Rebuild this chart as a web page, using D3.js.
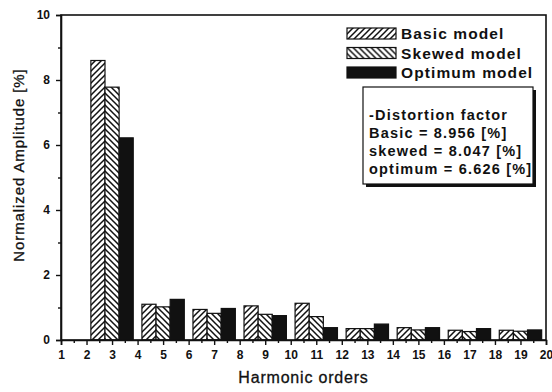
<!DOCTYPE html>
<html>
<head>
<meta charset="utf-8">
<script src="https://cdn.jsdelivr.net/npm/d3@7"></script>
<style>
  body { margin: 0; background: #fff; }
  text { font-family: "Liberation Sans", Arial, sans-serif; fill: #111; }
</style>
</head>
<body>
<div id="chart"></div>
<script>
const width = 552;
const height = 392;

const harmonics = [3, 5, 7, 9, 11, 13, 15, 17, 19];
const series = ["Basic model", "Skewed model", "Optimum model"];
const basic   = [8.60, 1.10, 0.94, 1.05, 1.13, 0.35, 0.38, 0.30, 0.30];
const skewed  = [7.78, 1.02, 0.82, 0.79, 0.72, 0.35, 0.31, 0.26, 0.27];
const optimum = [6.22, 1.25, 0.97, 0.75, 0.38, 0.49, 0.38, 0.35, 0.31];
const xTicks = d3.range(1, 21);
const yTicks = [0, 2, 4, 6, 8, 10];
const distortion = ["-Distortion factor", "Basic = 8.956 [%]", "skewed = 8.047 [%]", "optimum = 6.626 [%]"];

const values = [basic, skewed, optimum];
const fills = ["url(#hatch-basic)", "url(#hatch-skewed)", "#111"];

const margin = { top: 15, right: 6, bottom: 52, left: 61 };

let x = d3.scaleLinear()
  .domain([1, 20])
  .range([margin.left, width - margin.right]);
let y = d3.scaleLinear()
  .domain([0, 10])
  .range([height - margin.bottom, margin.top]);
let inner = d3.scaleBand()
  .domain(series)
  .range([-0.83, 0.83]);

let svg = d3.select("#chart")
  .append("svg")
  .attr("width", width)
  .attr("height", height)
  .attr("viewBox", [0, 0, width, height]);

let defs = svg.append("defs");
function hatch(id, d) {
  defs.append("pattern")
      .attr("id", id)
      .attr("patternUnits", "userSpaceOnUse")
      .attr("width", 6)
      .attr("height", 6)
    .call(p => p.append("rect").attr("width", 6).attr("height", 6).attr("fill", "#fff"))
    .append("path")
      .attr("d", d)
      .attr("stroke", "#111")
      .attr("stroke-width", 1.5);
}
hatch("hatch-basic", "M-1,7 L7,-1 M-4,4 L4,-4 M2,10 L10,2");
hatch("hatch-skewed", "M-1,-1 L7,7 M-4,2 L4,10 M2,-4 L10,4");

// bars
let groups = svg.append("g")
  .selectAll("g")
  .data(series)
  .join("g");

groups.selectAll("rect")
  .data((s, i) => harmonics.map((h, j) => ({ h, v: values[i][j], s, i })))
  .join("rect")
    .attr("x", d => x(d.h + inner(d.s)))
    .attr("width", x(1 + inner.bandwidth()) - x(1))
    .attr("y", d => y(d.v))
    .attr("height", d => y(0) - y(d.v))
    .attr("fill", d => fills[d.i])
    .attr("stroke", "#111")
    .attr("stroke-width", 1.2);

// frame
svg.append("rect")
  .attr("x", x(1))
  .attr("y", y(10))
  .attr("width", x(20) - x(1))
  .attr("height", y(0) - y(10))
  .attr("fill", "none")
  .attr("stroke", "#111")
  .attr("stroke-width", 1.6);

// axes
svg.append("g")
  .attr("transform", `translate(0,${y(0)})`)
  .call(d3.axisBottom(x).tickValues(xTicks).tickFormat(d3.format("d")).tickSize(5).tickPadding(5));
svg.append("g")
  .attr("transform", `translate(0,${y(0)})`)
  .call(d3.axisBottom(x).tickValues(d3.range(1.5, 20, 1)).tickFormat("").tickSize(3))
  .call(g => g.select(".domain").remove());

svg.append("g")
  .attr("transform", `translate(${x(1)},0)`)
  .call(d3.axisLeft(y).tickValues(yTicks).tickFormat(d3.format("d")).tickSize(5).tickPadding(6));
svg.append("g")
  .attr("transform", `translate(${x(1)},0)`)
  .call(d3.axisLeft(y).tickValues([1, 3, 5, 7, 9]).tickFormat("").tickSize(3))
  .call(g => g.select(".domain").remove());

svg.selectAll(".tick line").attr("stroke", "#111").attr("stroke-width", 1.4);
svg.selectAll(".domain").attr("stroke", "#111").attr("stroke-width", 1.6);
svg.selectAll(".tick text")
  .style("font-family", "'Liberation Sans', Arial, sans-serif")
  .style("font-size", "12px")
  .style("font-weight", "bold")
  .attr("fill", "#111");

// axis titles
svg.append("text")
  .attr("x", (x(1) + x(20)) / 2)
  .attr("y", 383)
  .attr("text-anchor", "middle")
  .style("font-size", "16px")
  .style("letter-spacing", "0.8px")
  .style("stroke", "#111")
  .style("stroke-width", 0.3)
  .text("Harmonic orders");

svg.append("text")
  .attr("transform", `translate(24,165) rotate(-90)`)
  .attr("text-anchor", "middle")
  .style("font-size", "15px")
  .style("letter-spacing", "0.9px")
  .style("stroke", "#111")
  .style("stroke-width", 0.3)
  .text("Normalized Amplitude [%]");

// legend
let legend = svg.append("g")
  .selectAll("g")
  .data(series)
  .join("g")
    .attr("transform", (d, i) => `translate(347,${28 + i * 19.5})`);
legend.append("rect")
  .attr("width", 49)
  .attr("height", 11)
  .attr("fill", (d, i) => fills[i])
  .attr("stroke", "#111")
  .attr("stroke-width", 1.2);
legend.append("text")
  .attr("x", 54)
  .attr("y", 11)
  .style("font-weight", "bold")
  .style("font-size", "15.5px")
  .style("letter-spacing", "1.1px")
  .text(d => d);

// distortion factor box
let box = svg.append("g").attr("transform", "translate(363,87)");
box.append("rect")
  .attr("x", 3)
  .attr("y", 3)
  .attr("width", 170)
  .attr("height", 97)
  .attr("fill", "#111");
box.append("rect")
  .attr("width", 170)
  .attr("height", 97)
  .attr("fill", "#fff")
  .attr("stroke", "#111")
  .attr("stroke-width", 1.2);
box.selectAll("text")
  .data(distortion)
  .join("text")
    .attr("x", 6)
    .attr("y", (d, i) => 33 + i * 18)
    .style("font-weight", "bold")
    .style("font-size", "14.5px")
    .style("letter-spacing", "1.2px")
    .text(d => d);
</script>
</body>
</html>
